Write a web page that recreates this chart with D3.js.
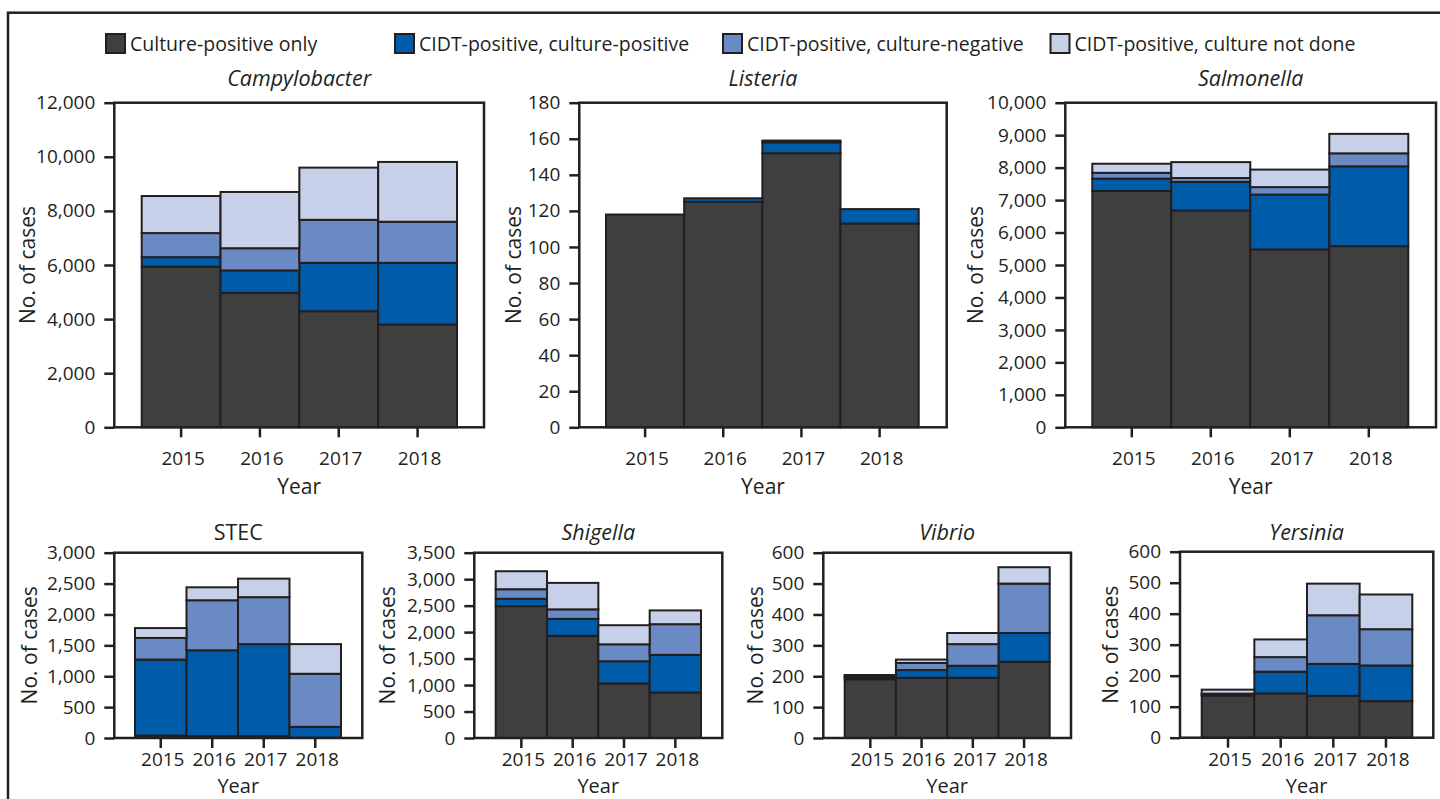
<!DOCTYPE html>
<html>
<head>
<meta charset="utf-8">
<script src="https://cdn.jsdelivr.net/npm/d3@7"></script>
<style>
body{margin:0;background:#fff;}
svg{display:block;font-family:"Open Sans",sans-serif;}
</style>
</head>
<body>
<div class="container"></div>
<script>
const years = ["2015", "2016", "2017", "2018"];
const categories = [
  "Culture-positive only",
  "CIDT-positive, culture-positive",
  "CIDT-positive, culture-negative",
  "CIDT-positive, culture not done"
];

// one row per year: [culture only, CIDT+/culture+, CIDT+/culture-, CIDT+/not cultured]
const campylobacter = [[5940, 350, 890, 1370], [4970, 830, 820, 2080], [4290, 1790, 1590, 1930], [3800, 2280, 1520, 2210]];
const listeria = [[118, 0, 0, 0], [125, 2, 0, 0], [152, 6, 1, 0], [113, 8, 0, 0]];
const salmonella = [[7280, 380, 180, 280], [6680, 880, 120, 490], [5480, 1690, 230, 540], [5580, 2460, 400, 600]];
const stec = [[40, 1230, 350, 160], [30, 1390, 810, 210], [30, 1490, 760, 300], [5, 175, 860, 480]];
const shigella = [[2490, 140, 180, 340], [1930, 320, 180, 500], [1030, 420, 320, 360], [860, 710, 580, 260]];
const vibrio = [[190, 6, 4, 4], [195, 25, 23, 11], [195, 39, 70, 36], [247, 93, 160, 53]];
const yersinia = [[136, 3, 3, 13], [143, 70, 47, 57], [135, 103, 157, 102], [118, 115, 117, 112]];

const yMax = [12000, 180, 10000, 3000, 3500, 600, 600];
const yStep = [2000, 20, 1000, 500, 500, 100, 100];

const panels = [
  {name: "Campylobacter", italic: true, values: campylobacter},
  {name: "Listeria", italic: true, values: listeria},
  {name: "Salmonella", italic: true, values: salmonella},
  {name: "STEC", italic: false, values: stec},
  {name: "Shigella", italic: true, values: shigella},
  {name: "Vibrio", italic: true, values: vibrio},
  {name: "Yersinia", italic: true, values: yersinia}
];

// frame box, bar span and y-label position of each panel
const boxes = [
  {x0: 114.3, x1: 484, y0: 102.7, y1: 427.3, b0: 141.7, b1: 457, lx: 28, row: 0},
  {x0: 579.3, x1: 946.7, y0: 102.7, y1: 427.3, b0: 606, b1: 918.7, lx: 514, row: 0},
  {x0: 1065.3, x1: 1436, y0: 102.7, y1: 427.3, b0: 1092.3, b1: 1408.3, lx: 976, row: 0},
  {x0: 114.3, x1: 362.3, y0: 552.7, y1: 738, b0: 135, b1: 341, lx: 30, row: 1},
  {x0: 474.3, x1: 722.3, y0: 552.7, y1: 738, b0: 495.7, b1: 701, lx: 388, row: 1},
  {x0: 823.3, x1: 1071, y0: 552.7, y1: 738, b0: 844.7, b1: 1049.7, lx: 756, row: 1},
  {x0: 1180, x1: 1433.3, y0: 551.7, y1: 737.7, b0: 1201.7, b1: 1412.3, lx: 1111, row: 1}
];
const rows = [
  {titleY: 86, tickY: 465, yearY: 494, yearSize: 21},
  {titleY: 540, tickY: 766, yearY: 793, yearSize: 20}
];

const colors = ["#3f3f3f", "#005ba9", "#6a8ac4", "#c6d0e8"];
const ink = "#231f20";
const legendX = [105, 394, 722, 1049.5];

const svg = d3.select(".container")
  .append("svg")
  .attr("width", 1440)
  .attr("height", 799);

// outer frame running off the page
svg.append("rect")
  .attr("x", 8).attr("y", 12.7)
  .attr("width", 1460).attr("height", 820)
  .attr("fill", "none").attr("stroke", ink).attr("stroke-width", 2.5);

// legend
const legend = svg.selectAll("g.legend")
  .data(categories)
  .enter().append("g")
  .attr("class", "legend")
  .attr("transform", (d, i) => `translate(${legendX[i]},33)`);
legend.append("rect")
  .attr("x", 1).attr("y", 1)
  .attr("width", 19).attr("height", 19)
  .attr("fill", (d, i) => colors[i])
  .attr("stroke", ink).attr("stroke-width", 2);
legend.append("text")
  .attr("x", 25).attr("y", 17.5)
  .attr("font-size", 19.5)
  .attr("fill", ink)
  .text(d => d);

const fmt = d3.format(",");

panels.forEach((p, k) => {
  const b = boxes[k];
  const r = rows[b.row];
  const g = svg.append("g");

  const x = d3.scaleBand().domain(years).range([b.b0, b.b1]).padding(0);
  const y = d3.scaleLinear().domain([0, yMax[k]]).range([b.y1, b.y0]);

  const stack = d3.stack().keys([0, 1, 2, 3]);
  const series = stack(p.values);

  g.selectAll("g.layer")
    .data(series)
    .enter().append("g")
    .attr("class", "layer")
    .attr("fill", (d, i) => colors[i])
    .selectAll("rect")
    .data(d => d)
    .enter().append("rect")
    .attr("x", (d, i) => x(years[i]))
    .attr("width", x.bandwidth())
    .attr("y", d => y(d[1]))
    .attr("height", d => y(d[0]) - y(d[1]))
    .attr("stroke", ink)
    .attr("stroke-width", 2);

  // frame
  g.append("rect")
    .attr("x", b.x0).attr("y", b.y0)
    .attr("width", b.x1 - b.x0).attr("height", b.y1 - b.y0)
    .attr("fill", "none").attr("stroke", ink).attr("stroke-width", 2.5);

  const yAxis = g.append("g")
    .attr("transform", `translate(${b.x0},0)`)
    .call(d3.axisLeft(y).tickValues(d3.range(0, yMax[k] + 1, yStep[k])).tickSize(10).tickPadding(9).tickFormat(fmt));
  const xAxis = g.append("g")
    .attr("transform", `translate(0,${b.y1})`)
    .call(d3.axisBottom(x).tickSize(10).tickPadding(4));

  [yAxis, xAxis].forEach(a => {
    a.select(".domain").remove();
    a.selectAll("line").attr("stroke", ink).attr("stroke-width", 2.5);
    a.selectAll("text").attr("fill", ink).attr("font-size", 19).attr("font-family", "Open Sans");
  });
  xAxis.selectAll("text").attr("y", r.tickY - b.y1).attr("dy", 0).attr("dx", 2);

  g.append("text")
    .attr("x", (b.x0 + b.x1) / 2).attr("y", r.titleY)
    .attr("text-anchor", "middle")
    .attr("font-size", 21.5)
    .attr("font-style", p.italic ? "italic" : "normal")
    .attr("fill", ink)
    .text(p.name);

  g.append("text")
    .attr("x", (b.x0 + b.x1) / 2).attr("y", r.yearY)
    .attr("text-anchor", "middle")
    .attr("font-size", r.yearSize)
    .attr("fill", ink)
    .text("Year");

  g.append("text")
    .attr("transform", `translate(${b.lx},${(b.y0 + b.y1) / 2}) rotate(-90)`)
    .attr("text-anchor", "middle")
    .attr("dy", "0.35em")
    .attr("font-size", 21)
    .attr("fill", ink)
    .text("No. of cases");
});
</script>
</body>
</html>
